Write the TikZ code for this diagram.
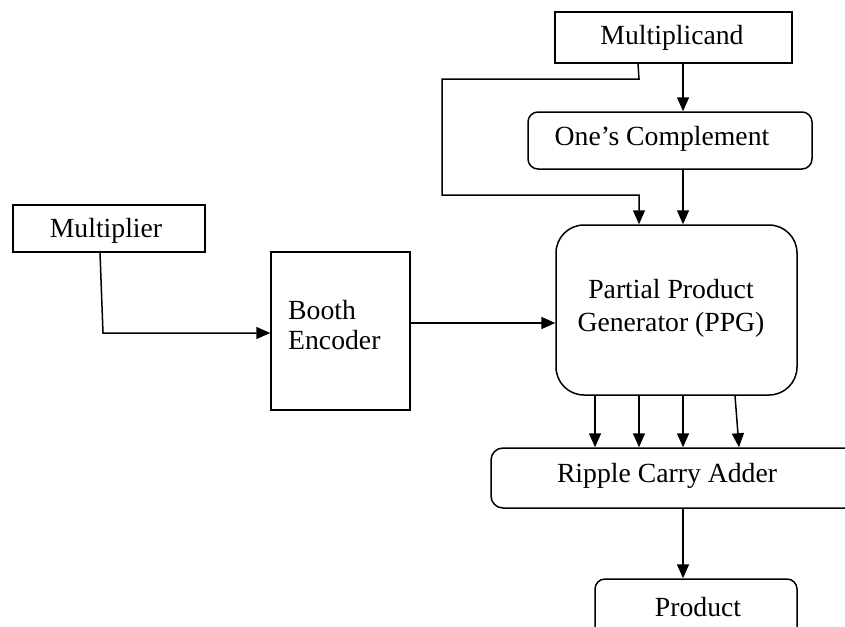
\documentclass[tikz,border=0pt]{standalone}
\usepackage{fontspec}
\setmainfont{Liberation Serif}
\usetikzlibrary{arrows.meta}
\tikzset{
  box/.style={draw, line width=1.5pt, inner sep=0pt},
  rbox/.style={box, rounded corners=10pt},
  txt/.style={font=\fontsize{27.7}{33}\selectfont, inner sep=0pt},
  arr/.style={-{Triangle[length=14pt,width=12pt]}, line width=1.5pt},
  ln/.style={line width=1.5pt}
}
\begin{document}
\begin{tikzpicture}[x=1pt,y=-1pt]
\useasboundingbox (0,0) rectangle (845,626);
% boxes
\node[box, minimum width=237pt, minimum height=51pt] (mc) at (673.5,37.5) {};
\node[txt] (mctxt) at (672,38) {Multiplicand};
\node[rbox, minimum width=284pt, minimum height=57pt] (oc) at (670,140.5) {};
\node[txt] (octxt) at (662,139) {One’s Complement};
\node[box, minimum width=192pt, minimum height=47pt] (mult) at (109,228.5) {};
\node[txt] (multtxt) at (106,231) {Multiplier};
\node[box, minimum width=139pt, minimum height=158pt] (booth) at (340.5,331) {};
\node[txt, anchor=west, align=left, font=\fontsize{27.7}{30}\selectfont] (boothtxt) at (288,325) {Booth\\Encoder};
\node[box, rounded corners=28pt, minimum width=241pt, minimum height=170pt] (ppg) at (676.5,310) {};
\node[txt, align=center] (ppgtxt) at (671,308) {Partial Product\\Generator (PPG)};
\node[rbox, rounded corners=12pt, minimum width=379pt, minimum height=60pt] (rca) at (680.5,478) {};
\node[txt] (rcatxt) at (667,476) {Ripple Carry Adder};
\node[rbox, minimum width=202pt, minimum height=62pt] (prod) at (696,610) {};
\node[txt] (prodtxt) at (698,607) {Product};
% helper coordinates
\coordinate (xa) at (683,0);
\coordinate (c1) at (639,79);
\coordinate (c2) at (442,79);
\coordinate (c3) at (442,195);
\coordinate (c4) at (639,195);
\coordinate (m0) at (100,0);
\coordinate (m1) at (103,333);
\coordinate (yb) at (0,323);
\coordinate (p1) at (595,0);
\coordinate (p2) at (639,0);
\coordinate (p4) at (735,0);
\coordinate (q4) at (739,0);
% connectors
\draw[arr] (mc.south -| xa) -- (oc.north -| xa);
\draw[arr] (oc.south -| xa) -- (ppg.north -| xa);
\draw[arr] (mc.south -| 638,0) -- (c1) -- (c2) -- (c3) -- (c4) -- (ppg.north -| c4);
\draw[arr] (mult.south -| m0) -- (m1) -- (booth.west |- m1);
\draw[arr] (booth.east |- yb) -- (ppg.west |- yb);
\draw[arr] (ppg.south -| p1) -- (rca.north -| p1);
\draw[arr] (ppg.south -| p2) -- (rca.north -| p2);
\draw[arr] (ppg.south -| xa) -- (rca.north -| xa);
\draw[arr] (ppg.south -| p4) -- (rca.north -| q4);
\draw[arr] (rca.south -| xa) -- (prod.north -| xa);
\end{tikzpicture}
\end{document}
